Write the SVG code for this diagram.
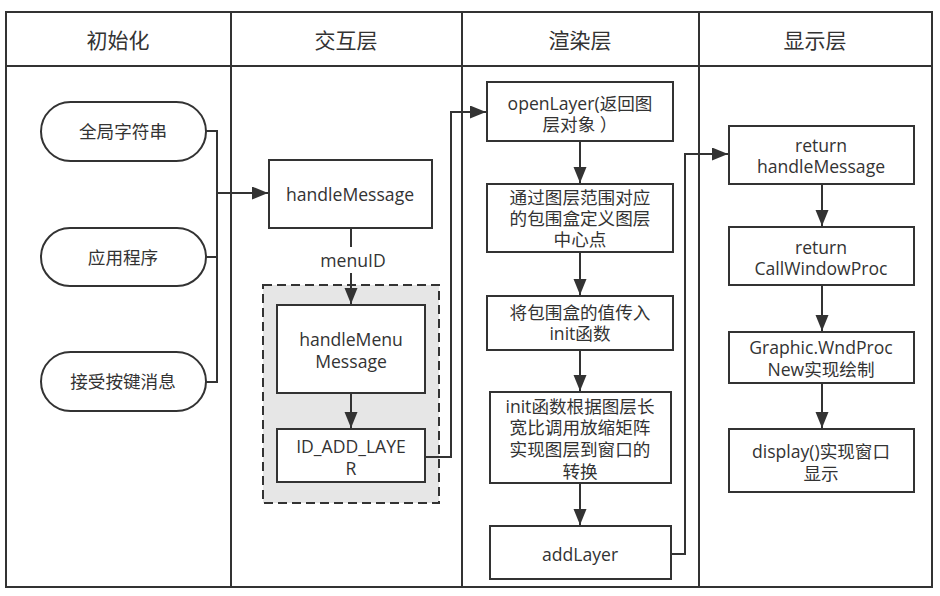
<svg xmlns="http://www.w3.org/2000/svg" width="940" height="596" viewBox="0 0 940 596">
<defs>
<marker id="arr" markerUnits="userSpaceOnUse" markerWidth="17" markerHeight="14" refX="16" refY="6.5" orient="auto">
<path d="M0,0 L16,6.5 L0,13 z" fill="#333"/>
</marker>
<style>
.frame{fill:none;stroke:#333;stroke-width:2}
.box{fill:#fff;stroke:#333;stroke-width:2}
.term{fill:#fff;stroke:#333;stroke-width:2}
.grp{fill:#e6e6e6;stroke:#333;stroke-width:2;stroke-dasharray:9 5}
.ln{fill:none;stroke:#333;stroke-width:2}
.ar{fill:none;stroke:#333;stroke-width:2;marker-end:url(#arr)}
text{font-family:"Open Sans","Noto Sans CJK SC",sans-serif;fill:#333;text-anchor:middle;dominant-baseline:central}
.t{font-size:17.6px}
.h{font-size:21px}
</style>
</defs>
<rect width="940" height="596" fill="#fff"/>
<g id="lanes">
<rect class="frame" x="6" y="12" width="926" height="575"/>
<line class="frame" x1="6" y1="66" x2="932" y2="66"/>
<line class="frame" x1="231" y1="12" x2="231" y2="587"/>
<line class="frame" x1="462" y1="12" x2="462" y2="587"/>
<line class="frame" x1="699" y1="12" x2="699" y2="587"/>
<text class="h" x="118" y="40">初始化</text>
<text class="h" x="346" y="40">交互层</text>
<text class="h" x="580" y="40">渲染层</text>
<text class="h" x="815" y="40">显示层</text>
</g>
<g id="group-menu">
<rect class="grp" x="263" y="285" width="176" height="218"/>
</g>
<g id="connectors">
<polyline class="ln" points="206,131 217,131 217,382 206,382"/>
<line class="ln" x1="206" y1="257" x2="217" y2="257"/>
<line class="ar" x1="217" y1="193" x2="268" y2="193"/>
<line class="ln" x1="351" y1="228" x2="351" y2="247"/>
<line class="ar" x1="351" y1="273" x2="351" y2="304"/>
<line class="ar" x1="351" y1="393" x2="351" y2="428"/>
<polyline class="ar" points="425,457 451,457 451,112 486,112"/>
<line class="ar" x1="580" y1="141" x2="580" y2="183"/>
<line class="ar" x1="580" y1="252" x2="580" y2="295"/>
<line class="ar" x1="580" y1="350" x2="580" y2="391"/>
<line class="ar" x1="580" y1="483" x2="580" y2="525"/>
<polyline class="ar" points="671,554 685,554 685,154 728,154"/>
<line class="ar" x1="822" y1="184" x2="822" y2="226"/>
<line class="ar" x1="822" y1="285" x2="822" y2="331"/>
<line class="ar" x1="822" y1="383" x2="822" y2="428"/>
</g>
<g id="n-global">
<rect class="term" x="41" y="102" width="165" height="59" rx="29.5"/>
<text class="t" x="123" y="131">全局字符串</text>
</g>
<g id="n-app">
<rect class="term" x="41" y="228" width="165" height="58" rx="29"/>
<text class="t" x="123" y="257">应用程序</text>
</g>
<g id="n-key">
<rect class="term" x="41" y="352" width="165" height="59" rx="29.5"/>
<text class="t" x="123" y="381">接受按键消息</text>
</g>
<g id="n-handle">
<rect class="box" x="269" y="160" width="163" height="68"/>
<text class="t" x="350" y="194">handleMessage</text>
</g>
<g id="l-menuid">
<text class="t" x="353" y="260">menuID</text>
</g>
<g id="n-handlemenu">
<rect class="box" x="277" y="305" width="148" height="88"/>
<text class="t" x="351" y="339">handleMenu</text>
<text class="t" x="351" y="361">Message</text>
</g>
<g id="n-idadd">
<rect class="box" x="277" y="429" width="148" height="53"/>
<text class="t" x="351" y="446">ID_ADD_LAYE</text>
<text class="t" x="351" y="468">R</text>
</g>
<g id="n-open">
<rect class="box" x="487" y="82" width="186" height="59"/>
<text class="t" x="580" y="103">openLayer(返回图</text>
<text class="t" x="580" y="124">层对象 ）</text>
</g>
<g id="n-center">
<rect class="box" x="487" y="184" width="186" height="68"/>
<text class="t" x="580" y="197">通过图层范围对应</text>
<text class="t" x="580" y="218">的包围盒定义图层</text>
<text class="t" x="580" y="239">中心点</text>
</g>
<g id="n-init">
<rect class="box" x="487" y="296" width="186" height="54"/>
<text class="t" x="580" y="312">将包围盒的值传入</text>
<text class="t" x="580" y="333">init函数</text>
</g>
<g id="n-scale">
<rect class="box" x="490" y="392" width="181" height="91"/>
<text class="t" x="580" y="406">init函数根据图层长</text>
<text class="t" x="580" y="427">宽比调用放缩矩阵</text>
<text class="t" x="580" y="449">实现图层到窗口的</text>
<text class="t" x="580" y="471">转换</text>
</g>
<g id="n-addlayer">
<rect class="box" x="490" y="526" width="181" height="53"/>
<text class="t" x="580" y="554">addLayer</text>
</g>
<g id="n-ret-handle">
<rect class="box" x="729" y="126" width="185" height="58"/>
<text class="t" x="821" y="145">return</text>
<text class="t" x="821" y="166">handleMessage</text>
</g>
<g id="n-ret-call">
<rect class="box" x="729" y="227" width="185" height="58"/>
<text class="t" x="821" y="247">return</text>
<text class="t" x="821" y="268">CallWindowProc</text>
</g>
<g id="n-wndproc">
<rect class="box" x="729" y="332" width="185" height="51"/>
<text class="t" x="821" y="347">Graphic.WndProc</text>
<text class="t" x="821" y="369">New实现绘制</text>
</g>
<g id="n-display">
<rect class="box" x="729" y="429" width="185" height="63"/>
<text class="t" x="821" y="451">display()实现窗口</text>
<text class="t" x="821" y="473">显示</text>
</g>
</svg>
